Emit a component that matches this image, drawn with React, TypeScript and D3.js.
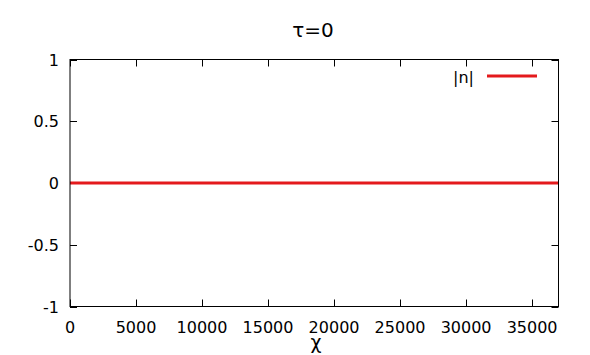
import React from "react";
import * as d3 from "d3";

const chartTitle = "τ=0";
const xLabel = "χ";
const seriesName = "|n|";
const chiValues = [0, 5000, 10000, 15000, 20000, 25000, 30000, 35000, 37000];
const nValues = [0, 0, 0, 0, 0, 0, 0, 0, 0];
const xTicks = [0, 5000, 10000, 15000, 20000, 25000, 30000, 35000];
const yTicks = [-1, -0.5, 0, 0.5, 1];

const W = 590, H = 355;
const M = { left: 70, right: 31.5, top: 59.5, bottom: 48.5 };
const FONT = "DejaVu Sans";

export default function App() {
  const x = d3.scaleLinear().domain([0, 37000]).range([M.left, W - M.right]);
  const y = d3.scaleLinear().domain([-1, 1]).range([H - M.bottom, M.top]);
  const line = d3.line<number>().x((_, i) => x(chiValues[i])).y((d) => y(d));
  const tl = 7;
  const x0 = M.left, x1 = W - M.right, y0 = H - M.bottom, y1 = M.top;
  return (
    <svg width={W} height={H} style={{ position: "absolute", left: 0, top: 0, background: "#fff" }}>
      <rect width={W} height={H} fill="#fff" />
      <text x={313} y={37} textAnchor="middle" fontFamily={FONT} fontSize={20}>{chartTitle}</text>
      <g stroke="#000" strokeWidth={1}>
        {xTicks.map((t) => (
          <g key={"x" + t}>
            <line x1={Math.round(x(t)) + 0.5} x2={Math.round(x(t)) + 0.5} y1={y0} y2={y0 - tl} />
            <line x1={Math.round(x(t)) + 0.5} x2={Math.round(x(t)) + 0.5} y1={y1} y2={y1 + tl} />
          </g>
        ))}
        {yTicks.map((t) => (
          <g key={"y" + t}>
            <line x1={x0} x2={x0 + tl} y1={Math.round(y(t)) + 0.5} y2={Math.round(y(t)) + 0.5} />
            <line x1={x1} x2={x1 - tl} y1={Math.round(y(t)) + 0.5} y2={Math.round(y(t)) + 0.5} />
          </g>
        ))}
      </g>
      <path d={line(nValues) || ""} fill="none" stroke="#e41a1c" strokeWidth={3} />
      <rect x={x0} y={y1} width={x1 - x0} height={y0 - y1} fill="none" stroke="#000" strokeWidth={1} />
      {xTicks.map((t) => (
        <text key={"xl" + t} x={x(t)} y={333} textAnchor="middle" fontFamily={FONT} fontSize={16}>{t}</text>
      ))}
      {yTicks.map((t) => (
        <text key={"yl" + t} x={59} y={y(t) + 6} textAnchor="end" fontFamily={FONT} fontSize={16}>{t}</text>
      ))}
      <text x={316} y={349} textAnchor="middle" fontFamily={FONT} fontSize={19}>{xLabel}</text>
      <text x={474} y={83} textAnchor="end" fontFamily={FONT} fontSize={16}>{seriesName}</text>
      <line x1={487} x2={537} y1={76} y2={76} stroke="#e41a1c" strokeWidth={3} />
    </svg>
  );
}
